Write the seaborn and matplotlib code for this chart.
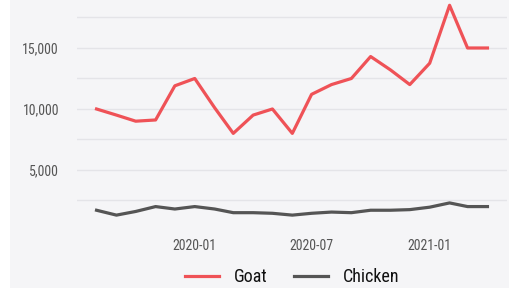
import pandas as pd
import seaborn as sns
import matplotlib.pyplot as plt
import matplotlib.dates as mdates
from matplotlib.ticker import FixedLocator, FuncFormatter
from matplotlib.patches import Rectangle

# --- данные ---
months = ["2019-08", "2019-09", "2019-10", "2019-11", "2019-12",
          "2020-01", "2020-02", "2020-03", "2020-04", "2020-05", "2020-06",
          "2020-07", "2020-08", "2020-09", "2020-10", "2020-11", "2020-12",
          "2021-01", "2021-02", "2021-03", "2021-04"]
goat = [10000, 9500, 9000, 9100, 11900,
        12500, 10100, 8000, 9500, 10000, 8000,
        11200, 12000, 12500, 14300, 13200, 12000,
        13750, 18500, 15000, 15000]
chicken = [1700, 1300, 1600, 2000, 1800,
           2000, 1800, 1500, 1500, 1450, 1300,
           1450, 1550, 1500, 1700, 1700, 1750,
           1950, 2300, 2000, 2000]
series_names = ["Goat", "Chicken"]
colors = ["#ef5257", "#555555"]

df = pd.DataFrame({
    "month": pd.to_datetime(months * 2),
    "value": goat + chicken,
    "animal": [series_names[0]] * len(months) + [series_names[1]] * len(months),
})

bg = "#f5f5f7"
plt.rcParams["font.family"] = ["Roboto Condensed", "DejaVu Sans"]

fig = plt.figure(figsize=(5.1, 2.88), dpi=100, facecolor=bg)
# белая полоска слева, как на исходнике
fig.patches.append(Rectangle((0, 0), 10 / 510, 1, transform=fig.transFigure,
                             facecolor="white", edgecolor="none", zorder=-1))
ax = fig.add_axes([77 / 510, 1 - 225 / 288, 430 / 510, 225 / 288])
ax.set_facecolor(bg)

sns.lineplot(data=df, x="month", y="value", hue="animal",
             palette=dict(zip(series_names, colors)), linewidth=2.3, ax=ax)

ax.set_ylim(490, 18934)
ax.yaxis.set_major_locator(FixedLocator([2500, 5000, 7500, 10000, 12500, 15000, 17500]))
ax.yaxis.set_major_formatter(FuncFormatter(lambda v, p: f"{int(v):,}" if v % 5000 == 0 else ""))
ax.xaxis.set_major_locator(mdates.MonthLocator(bymonth=[1, 7]))
ax.xaxis.set_major_formatter(mdates.DateFormatter("%Y-%m"))

ax.grid(axis="y", color="#e4e4e8", linewidth=1)
ax.set_axisbelow(True)
for s in ax.spines.values():
    s.set_visible(False)
ax.tick_params(length=0, labelsize=10, colors="#555555")
ax.tick_params(axis="y", pad=13)
ax.tick_params(axis="x", pad=10)
ax.set_xlabel("")
ax.set_ylabel("")

ax.legend(loc="center", bbox_to_anchor=(292 / 510, 1 - 277 / 288),
          bbox_transform=fig.transFigure, ncol=2, frameon=False,
          fontsize=13, handlelength=1.9, handletextpad=0.8, columnspacing=1.5,
          labelcolor="#111111")

fig.savefig("out.png", dpi=100, facecolor=bg)
